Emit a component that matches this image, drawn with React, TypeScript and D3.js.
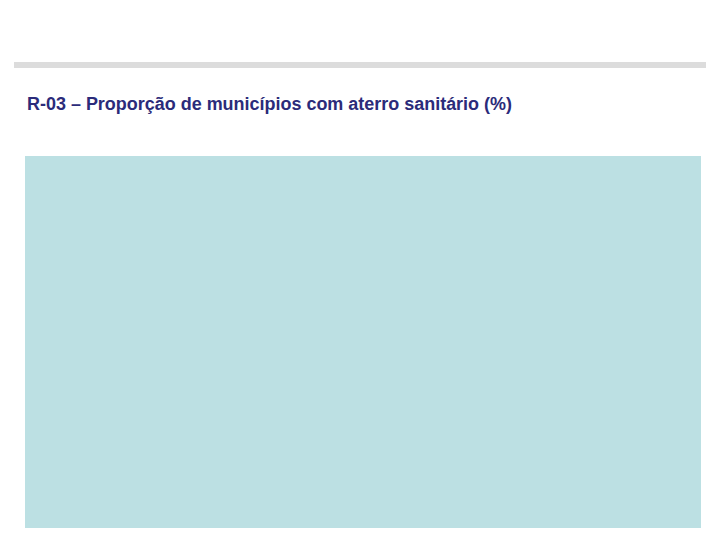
import React, { useEffect, useRef } from 'react';
import * as d3 from 'd3';

// Slide holds only the title and an empty plot panel (no series drawn).
const titleText = 'R-03 – Proporção de municípios com aterro sanitário (%)';
const categories: string[] = [];
const values: number[] = [];

const W = 720;
const H = 540;

const colors = {
    rule: '#dcdcdc',
    title: '#2b2b7a',
    panel: '#bce0e3',
};

const drawChart = (svgEl: SVGSVGElement) => {
    const svg = d3.select(svgEl);
    svg.selectAll('*').remove();

    // --- Header rule ---
    svg.append('rect')
        .attr('x', 14)
        .attr('y', 62)
        .attr('width', 692)
        .attr('height', 6)
        .attr('fill', colors.rule);

    // --- Title ---
    svg.append('text')
        .attr('x', 27)
        .attr('y', 110)
        .attr('textLength', 485)
        .attr('lengthAdjust', 'spacingAndGlyphs')
        .style('font-family', '"Liberation Sans", Arial, sans-serif')
        .style('font-weight', 'bold')
        .style('font-size', '17.5px')
        .style('fill', colors.title)
        .text(titleText);

    // --- Plot panel ---
    const panel = { left: 25, top: 156, right: 701, bottom: 528 };
    const x = d3.scaleBand<string>()
        .domain(categories)
        .range([panel.left, panel.right]);
    const y = d3.scaleLinear()
        .domain([0, d3.max(values) ?? 100])
        .range([panel.bottom, panel.top]);

    svg.append('rect')
        .attr('x', panel.left)
        .attr('y', panel.top)
        .attr('width', panel.right - panel.left)
        .attr('height', panel.bottom - panel.top)
        .attr('fill', colors.panel);

    svg.selectAll('.bar')
        .data(values)
        .enter()
        .append('rect')
        .attr('x', (_d, i) => x(categories[i]) ?? 0)
        .attr('y', d => y(d))
        .attr('width', x.bandwidth())
        .attr('height', d => panel.bottom - y(d));
};

const App: React.FC = () => {
    const svgRef = useRef<SVGSVGElement | null>(null);

    useEffect(() => {
        if (svgRef.current) drawChart(svgRef.current);
    }, []);

    return (
        <svg
            ref={svgRef}
            width={W}
            height={H}
            viewBox={`0 0 ${W} ${H}`}
            style={{ display: 'block', position: 'absolute', left: 0, top: 0, background: '#fff' }}
        />
    );
};

export default App;
